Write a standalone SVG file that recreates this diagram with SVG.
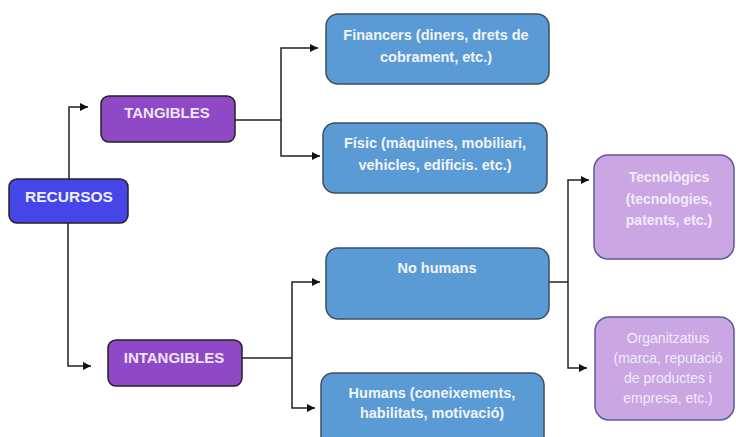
<svg xmlns="http://www.w3.org/2000/svg" width="736" height="437" viewBox="0 0 736 437">
<defs>
<marker id="ah" markerWidth="10" markerHeight="10" refX="9" refY="5" orient="auto" markerUnits="userSpaceOnUse">
<path d="M1,1 L9,5 L1,9 Z" fill="#111"/>
</marker>
<style>
.c{fill:none;stroke:#222;stroke-width:1.5}
.a{marker-end:url(#ah)}
.root{fill:#4545e8;stroke:#222;stroke-width:1.5}
.cat{fill:#8f48c6;stroke:#222;stroke-width:1.5}
.blue{fill:#5b9bd5;stroke:#3d4f60;stroke-width:1.5}
.lp{fill:#caa6e3;stroke:#5e5aa0;stroke-width:1.5}
text{font-family:"Liberation Sans",Arial,sans-serif;text-anchor:middle}
.tb{font-weight:bold;font-size:15px;fill:#eee6f8}
.tr{font-weight:bold;font-size:15.5px;fill:#f0f0ff}
.tw{font-weight:bold;font-size:14.5px;fill:#f2f4f8}
.tl{font-weight:bold;font-size:14px;fill:#f3ebfa}
.tn{font-size:14px;fill:#f3ebfa}
</style>
</defs>
<g id="connectors">
<path class="c a" d="M69,179 V107 H88"/>
<path class="c a" d="M68,223 V366 H91"/>
<path class="c" d="M235,120 H281"/>
<path class="c a" d="M281,120 V48 H318"/>
<path class="c a" d="M281,120 V156 H320"/>
<path class="c" d="M242,358 H292"/>
<path class="c a" d="M292,358 V282 H320"/>
<path class="c a" d="M292,358 V408 H315"/>
<path class="c" d="M549,282 H568"/>
<path class="c a" d="M568,282 V180 H589"/>
<path class="c a" d="M568,282 V368 H587"/>
</g>
<g id="recursos">
<rect class="root" x="9" y="179" width="119" height="44" rx="8"/>
<text class="tr" x="69" y="202">RECURSOS</text>
</g>
<g id="tangibles">
<rect class="cat" x="101" y="96" width="134" height="46" rx="8"/>
<text class="tb" x="167" y="118">TANGIBLES</text>
</g>
<g id="intangibles">
<rect class="cat" x="108" y="340" width="134" height="46" rx="8"/>
<text class="tb" x="174" y="363">INTANGIBLES</text>
</g>
<g id="financers">
<rect class="blue" x="326" y="14" width="223" height="70" rx="12"/>
<text class="tw" x="436" y="40">Financers (diners, drets de</text>
<text class="tw" x="436" y="62">cobrament, etc.)</text>
</g>
<g id="fisic">
<rect class="blue" x="323" y="123" width="224" height="70" rx="12"/>
<text class="tw" x="435" y="148">Físic (màquines, mobiliari,</text>
<text class="tw" x="435" y="170">vehicles, edificis. etc.)</text>
</g>
<g id="nohumans">
<rect class="blue" x="326" y="248" width="223" height="71" rx="12"/>
<text class="tw" x="437" y="273">No humans</text>
</g>
<g id="humans">
<rect class="blue" x="321" y="373" width="223" height="75" rx="12"/>
<text class="tw" x="432" y="398">Humans (coneixements,</text>
<text class="tw" x="432" y="418">habilitats, motivació)</text>
</g>
<g id="tecnologics">
<rect class="lp" x="594" y="155" width="140" height="104" rx="14"/>
<text class="tl" x="669" y="182">Tecnològics</text>
<text class="tl" x="669" y="204">(tecnologies,</text>
<text class="tl" x="669" y="225">patents, etc.)</text>
</g>
<g id="organitzatius">
<rect class="lp" x="595" y="317" width="139" height="103" rx="14"/>
<text class="tn" x="668" y="343">Organitzatius</text>
<text class="tn" x="668" y="363">(marca, reputació</text>
<text class="tn" x="668" y="383">de productes i</text>
<text class="tn" x="668" y="403">empresa, etc.)</text>
</g>
</svg>
